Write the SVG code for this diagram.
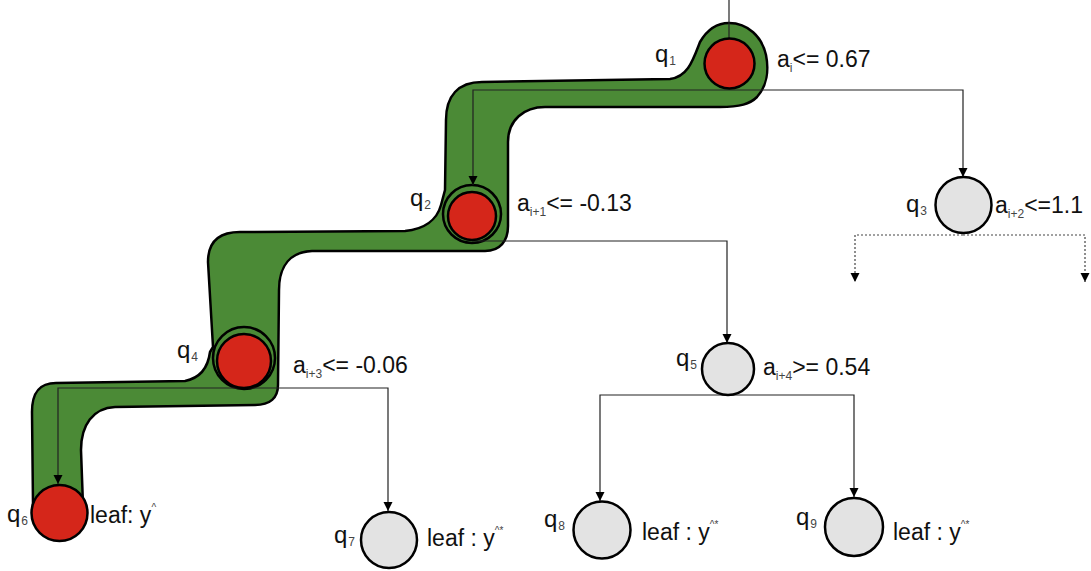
<svg xmlns="http://www.w3.org/2000/svg" width="1091" height="571" viewBox="0 0 1091 571">
  <style>
    text { font-family: "Liberation Sans", Arial, sans-serif; fill: #111; }
    .lbl { font-size: 23px; }
    .q { font-size: 24px; }
    .sub { font-size: 12px; fill: #444; }
    .sup { font-size: 10px; fill: #444; }
    .band { fill: #4b8a36; stroke: #000; stroke-width: 2.5; stroke-linejoin: round; }
    .ring { fill: #4b8a36; stroke: #000; stroke-width: 2.5; }
    .edge { fill: none; stroke: #222; stroke-width: 1.2; }
    .dot { fill: none; stroke: #444; stroke-width: 1.2; stroke-dasharray: 2 2; }
    .hot { fill: #d5261a; stroke: #000; stroke-width: 2.5; }
    .cold { fill: #e3e3e3; stroke: #000; stroke-width: 2.5; }
  </style>
  <defs>
    <marker id="arrow" viewBox="0 0 10 10" refX="10" refY="5" markerWidth="9" markerHeight="11" markerUnits="userSpaceOnUse" orient="auto">
      <path d="M0,0 L10,5 L0,10 Z" fill="#000"/>
    </marker>
  </defs>

  <!-- highlighted decision path -->
  <g id="path-highlight">
    <path class="band" d="M729,23 C748,23 762,37 766,55 C769,70 767,86 757,97 C750,104 740,107 720,107
      L545,107 C524,107 508,120 508,142 L508,226 C508,241 500,251 485,251
      L312,251 C291,252 279,265 279,290 L278,385 C278,398 270,405 255,405
      L115,407 C93,408 81,425 81,450 L83,505 L33,505 L32,412
      C32,394 38,383 56,383 L185,381 C200,378 208,368 210,352 L213,347
      L208,262 C208,243 218,232 240,232 L405,231 C424,229 437,220 441,205 L445,190
      L446,120 C446,96 458,82 482,82 L670,79 C688,77 693,60 700,42 C707,30 716,23 729,23 Z"/>
    <circle class="ring" cx="472" cy="214" r="29"/>
    <circle class="ring" cx="244" cy="358" r="31"/>
  </g>

  <!-- connectors -->
  <g id="connectors">
    <line class="edge" x1="729" y1="0" x2="729" y2="38"/>
    <polyline class="edge" points="729,90 473,90 473,185" marker-end="url(#arrow)"/>
    <polyline class="edge" points="729,90 963,90 963,177" marker-end="url(#arrow)"/>
    <polyline class="edge" points="472,241 727,241 727,343" marker-end="url(#arrow)"/>
    <polyline class="edge" points="244,388 58,388 58,484" marker-end="url(#arrow)"/>
    <polyline class="edge" points="244,388 388,388 388,511" marker-end="url(#arrow)"/>
    <polyline class="edge" points="727,395 600,395 600,501" marker-end="url(#arrow)"/>
    <polyline class="edge" points="727,395 854,395 854,497" marker-end="url(#arrow)"/>
    <polyline class="dot" points="963,235 855,235 855,282" marker-end="url(#arrow)"/>
    <polyline class="dot" points="963,235 1085,235 1085,282" marker-end="url(#arrow)"/>
  </g>

  <g id="q1">
    <circle class="hot" cx="729.5" cy="63.5" r="25"/>
    <text class="q" x="655" y="62">q<tspan class="sub" dx="1" dy="3">1</tspan></text>
    <text class="lbl" x="777" y="67">a<tspan class="sub" dy="5">i</tspan><tspan dy="-5">&lt;= 0.67</tspan></text>
  </g>
  <g id="q2">
    <circle class="hot" cx="472" cy="216" r="24"/>
    <text class="q" x="410" y="206">q<tspan class="sub" dx="1" dy="3">2</tspan></text>
    <text class="lbl" x="517" y="211">a<tspan class="sub" dy="5">i+1</tspan><tspan dy="-5">&lt;= -0.13</tspan></text>
  </g>
  <g id="q3">
    <circle class="cold" cx="963.5" cy="205" r="28"/>
    <text class="q" x="906" y="212">q<tspan class="sub" dx="1" dy="3">3</tspan></text>
    <text class="lbl" x="995" y="213">a<tspan class="sub" dy="5">i+2</tspan><tspan dy="-5">&lt;=1.1</tspan></text>
  </g>
  <g id="q4">
    <circle class="hot" cx="244" cy="361" r="27"/>
    <text class="q" x="177" y="358">q<tspan class="sub" dx="1" dy="3">4</tspan></text>
    <text class="lbl" x="293" y="373">a<tspan class="sub" dy="5">i+3</tspan><tspan dy="-5">&lt;= -0.06</tspan></text>
  </g>
  <g id="q5">
    <circle class="cold" cx="728" cy="369" r="26"/>
    <text class="q" x="676" y="366">q<tspan class="sub" dx="1" dy="3">5</tspan></text>
    <text class="lbl" x="763" y="375">a<tspan class="sub" dy="5">i+4</tspan><tspan dy="-5">&gt;= 0.54</tspan></text>
  </g>
  <g id="q6">
    <circle class="hot" cx="59.5" cy="513" r="28"/>
    <text class="q" x="7" y="522">q<tspan class="sub" dx="1" dy="3">6</tspan></text>
    <text class="lbl" x="90" y="523">leaf: y<tspan class="sup" dy="-12">^</tspan></text>
  </g>
  <g id="q7">
    <circle class="cold" cx="389" cy="540" r="28"/>
    <text class="q" x="334" y="543">q<tspan class="sub" dx="1" dy="3">7</tspan></text>
    <text class="lbl" x="427" y="546">leaf : y<tspan class="sup" dy="-12">^*</tspan></text>
  </g>
  <g id="q8">
    <circle class="cold" cx="602" cy="530" r="28.5"/>
    <text class="q" x="544" y="527">q<tspan class="sub" dx="1" dy="3">8</tspan></text>
    <text class="lbl" x="642" y="540">leaf : y<tspan class="sup" dy="-12">^*</tspan></text>
  </g>
  <g id="q9">
    <circle class="cold" cx="854" cy="527" r="29"/>
    <text class="q" x="796" y="525">q<tspan class="sub" dx="1" dy="3">9</tspan></text>
    <text class="lbl" x="893" y="540">leaf : y<tspan class="sup" dy="-12">^*</tspan></text>
  </g>
</svg>
